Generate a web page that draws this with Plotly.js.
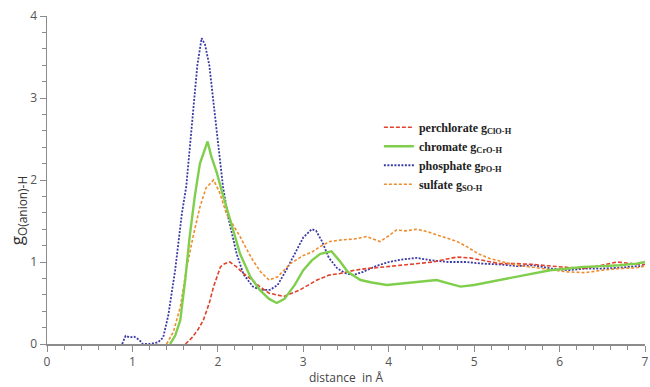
<!DOCTYPE html>
<html><head><meta charset="utf-8">
<script src="https://cdn.plot.ly/plotly-3.0.1.min.js"></script>
<style>html,body{margin:0;padding:0;background:#fff}#chart{width:650px;height:387px}</style>
</head><body><div id="chart"></div>
<script>
// phosphate g_PO-H (blue, dotted)
const phosX = [0.88,0.92,0.97,1.02,1.08,1.12,1.2,1.3,1.36,1.42,1.5,1.58,1.63,1.7,1.76,1.81,1.85,1.9,1.97,2.02,2.06,2.12,2.22,2.3,2.41,2.5,2.61,2.7,2.8,2.9,3.0,3.1,3.15,3.22,3.3,3.4,3.5,3.58,3.7,3.85,4.0,4.15,4.33,4.5,4.7,4.9,5.1,5.3,5.5,5.7,5.9,6.1,6.3,6.5,6.7,6.9,7.0];
const phosY = [0,0.1,0.08,0.09,0.05,0.0,0.0,0.02,0.08,0.35,0.9,1.6,1.92,2.7,3.4,3.73,3.65,3.4,2.73,2.3,1.92,1.55,1.1,0.85,0.7,0.66,0.66,0.72,0.9,1.1,1.3,1.40,1.38,1.25,1.05,0.92,0.86,0.84,0.88,0.95,1.0,1.03,1.05,1.02,1.0,1.0,0.98,0.97,0.95,0.96,0.92,0.9,0.92,0.92,0.93,0.95,0.95];
// chromate g_CrO-H (green, solid)
const chromX = [1.44,1.5,1.56,1.62,1.67,1.73,1.79,1.84,1.88,1.92,1.99,2.05,2.10,2.18,2.26,2.38,2.49,2.6,2.69,2.78,2.9,3.0,3.1,3.2,3.33,3.42,3.52,3.67,3.8,3.98,4.15,4.3,4.45,4.56,4.7,4.84,5.0,5.2,5.5,5.7,5.89,6.1,6.28,6.5,6.7,6.9,7.0];
const chromY = [0,0.1,0.29,0.8,1.31,1.8,2.2,2.35,2.47,2.3,2.08,1.85,1.67,1.4,1.1,0.82,0.66,0.55,0.5,0.55,0.72,0.9,1.02,1.1,1.13,1.02,0.88,0.78,0.75,0.72,0.74,0.75,0.77,0.78,0.74,0.70,0.72,0.76,0.82,0.86,0.9,0.92,0.94,0.95,0.96,0.98,1.0];
// sulfate g_SO-H (orange, dashed)
const sulfX = [1.4,1.48,1.56,1.63,1.71,1.79,1.86,1.95,2.02,2.10,2.18,2.26,2.34,2.41,2.5,2.6,2.7,2.85,3.0,3.1,3.2,3.31,3.45,3.6,3.74,3.9,4.0,4.09,4.2,4.33,4.45,4.64,4.8,4.91,5.05,5.19,5.35,5.5,5.8,6.08,6.3,6.5,6.7,6.9,7.0];
const sulfY = [0,0.15,0.45,0.9,1.31,1.67,1.9,2.0,1.85,1.59,1.45,1.31,1.15,1.02,0.88,0.78,0.82,0.98,1.08,1.12,1.19,1.25,1.27,1.28,1.31,1.25,1.32,1.39,1.38,1.40,1.37,1.31,1.25,1.19,1.1,1.04,1.0,0.96,0.92,0.88,0.87,0.9,0.92,0.93,0.95];
// perchlorate g_ClO-H (red, dash)
const perX = [1.62,1.7,1.77,1.83,1.9,1.95,2.0,2.03,2.08,2.14,2.22,2.30,2.4,2.49,2.6,2.77,2.96,3.16,3.3,3.43,3.6,3.74,3.95,4.13,4.3,4.52,4.7,4.8,4.95,5.11,5.3,5.5,5.7,5.9,6.1,6.28,6.45,6.67,6.85,7.0];
const perY = [0,0.08,0.18,0.29,0.5,0.70,0.85,0.94,0.98,1.0,0.94,0.86,0.78,0.70,0.62,0.58,0.66,0.78,0.84,0.86,0.9,0.92,0.94,0.96,0.98,1.0,1.04,1.06,1.05,1.02,0.98,0.98,0.97,0.95,0.93,0.92,0.95,1.0,0.98,0.97];

const names = ['perchlorate g<sub>ClO-H</sub>','chromate g<sub>CrO-H</sub>','phosphate g<sub>PO-H</sub>','sulfate g<sub>SO-H</sub>'];
const xTicks = [0,1,2,3,4,5,6,7];
const yTicks = [0,1,2,3,4];

const traces = [
  {x: perX, y: perY, name: names[0], mode:'lines', legendrank:1, line:{color:'#e2412a', width:1.6, dash:'4px,2px'}},
  {x: chromX, y: chromY, name: names[1], mode:'lines', legendrank:2, line:{color:'#7fcf4c', width:2.4}},
  {x: phosX, y: phosY, name: names[2], mode:'lines', legendrank:3, line:{color:'#3b3ba6', width:1.8, dash:'2px,1.5px'}},
  {x: sulfX, y: sulfY, name: names[3], mode:'lines', legendrank:4, line:{color:'#f08c2c', width:1.6, dash:'3px,2px'}}
];
const data = [traces[2], traces[0], traces[3], traces[1]];

const axColor = '#8c8c8c';
const tickFont = {family:'Open Sans, Noto Sans, sans-serif', size:12, color:'#555'};
const layout = {
  width:650, height:387,
  margin:{l:47, r:5, t:16, b:43},
  paper_bgcolor:'#fff', plot_bgcolor:'#fff',
  showlegend:true,
  legend:{x:0.555, y:0.705, xanchor:'left', yanchor:'top', bgcolor:'rgba(0,0,0,0)',
          font:{family:'Liberation Serif, serif', size:12, color:'#222', weight:'bold'},
          traceorder:'normal', tracegroupgap:0, itemwidth:30},
  xaxis:{range:[0,7], tickvals:xTicks, ticktext:xTicks.map(String), showgrid:false, zeroline:false,
         showline:true, linecolor:axColor, linewidth:1.5, ticks:'outside', ticklen:6, tickcolor:axColor,
         minor:{dtick:0.2, ticks:'outside', ticklen:4, tickcolor:axColor, showgrid:false},
         tickfont:tickFont,
         title:{text:'distance  in Å', font:{family:'Open Sans, Noto Sans, sans-serif', size:12, color:'#444'}, standoff:4}},
  yaxis:{range:[0,4], tickvals:yTicks, ticktext:yTicks.map(String), showgrid:false, zeroline:false,
         showline:true, linecolor:axColor, linewidth:1.5, ticks:'outside', ticklen:6, tickcolor:axColor,
         minor:{dtick:0.2, ticks:'outside', ticklen:4, tickcolor:axColor, showgrid:false},
         tickfont:tickFont},
  annotations:[{xref:'paper', yref:'paper', x:-0.05, y:0.405, xanchor:'center', yanchor:'middle',
    text:'g<sub>O(anion)-H</sub>', textangle:-90, showarrow:false,
    font:{family:'Open Sans, Noto Sans, sans-serif', size:17, color:'#333'}}]
};
Plotly.newPlot('chart', data, layout, {displayModeBar:false, staticPlot:true});
</script></body></html>
